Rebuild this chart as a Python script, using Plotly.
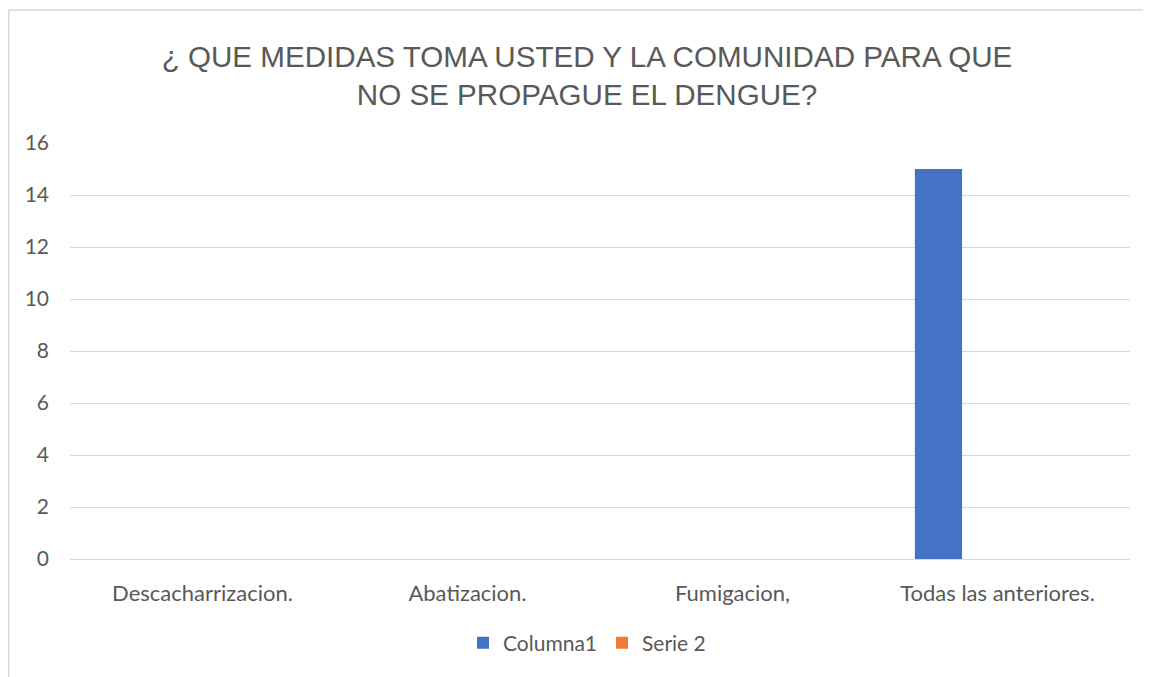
# plot.py
import plotly.graph_objects as go

categories = ["Descacharrizacion.", "Abatizacion.", "Fumigacion,", "Todas las anteriores."]
columna1 = [0, 0, 0, 15]
serie2 = [0, 0, 0, 0]

# page renders the figure 8px in from the top-left corner
off = 8
W, H = 1151 - off, 677 - off
L, T = 70 - off, 143 - off
R = W - (1130 - off)
B = H - (559 - off)
pw, ph = W - L - R, H - T - B

fig = go.Figure()
fig.add_trace(go.Bar(x=categories, y=columna1, name="Columna1", marker=dict(color="#4472C4", line_width=0)))
fig.add_trace(go.Bar(x=categories, y=serie2, name="Serie 2", marker=dict(color="#ED7D31", line_width=0)))

gray = "#595959"
border = dict(color="#d9d9d9", width=1.5)
bx = (0.75 - L) / pw
by = (T + ph - (10 - off)) / ph

fig.update_layout(
    width=W,
    height=H,
    margin=dict(l=L, r=R, t=T, b=B),
    paper_bgcolor="white",
    plot_bgcolor="white",
    barmode="group",
    bargap=0.109,
    bargroupgap=0.6,
    title=dict(
        text="¿ QUE MEDIDAS TOMA USTED Y LA COMUNIDAD PARA QUE<br>NO SE PROPAGUE EL DENGUE?",
        x=(587 - off) / W,
        xanchor="center",
        yref="container",
        y=1 - 59 / H,
        yanchor="top",
        font=dict(family="Liberation Sans, Arial", size=29.6, color=gray),
    ),
    font=dict(family="Lato, Noto Sans", size=22, color=gray),
    legend=dict(
        orientation="h",
        x=(587 - off - L) / pw,
        xanchor="center",
        y=-(643 - 559) / ph,
        yanchor="middle",
        font=dict(size=21, color=gray),
        itemwidth=30,
    ),
    xaxis=dict(
        showgrid=False,
        showline=False,
        ticks="",
        ticklabelstandoff=19,
        tickfont=dict(size=22, color=gray),
    ),
    yaxis=dict(
        range=[0, 16],
        dtick=2,
        showgrid=True,
        gridcolor="#d9d9d9",
        gridwidth=1,
        zeroline=True,
        zerolinecolor="#d9d9d9",
        zerolinewidth=1,
        showline=False,
        ticks="",
        ticklabelstandoff=20,
        tickfont=dict(size=21, color=gray),
    ),
    shapes=[
        # chart frame: only the left and top edges fall inside the view
        dict(type="line", xref="paper", yref="paper", x0=bx, x1=bx,
             y0=-(H - T - ph) / ph, y1=by, line=border, layer="below"),
        dict(type="line", xref="paper", yref="paper", x0=bx, x1=(W - L) / pw,
             y0=by, y1=by, line=border, layer="below"),
    ],
)

fig.write_html("out.html")
